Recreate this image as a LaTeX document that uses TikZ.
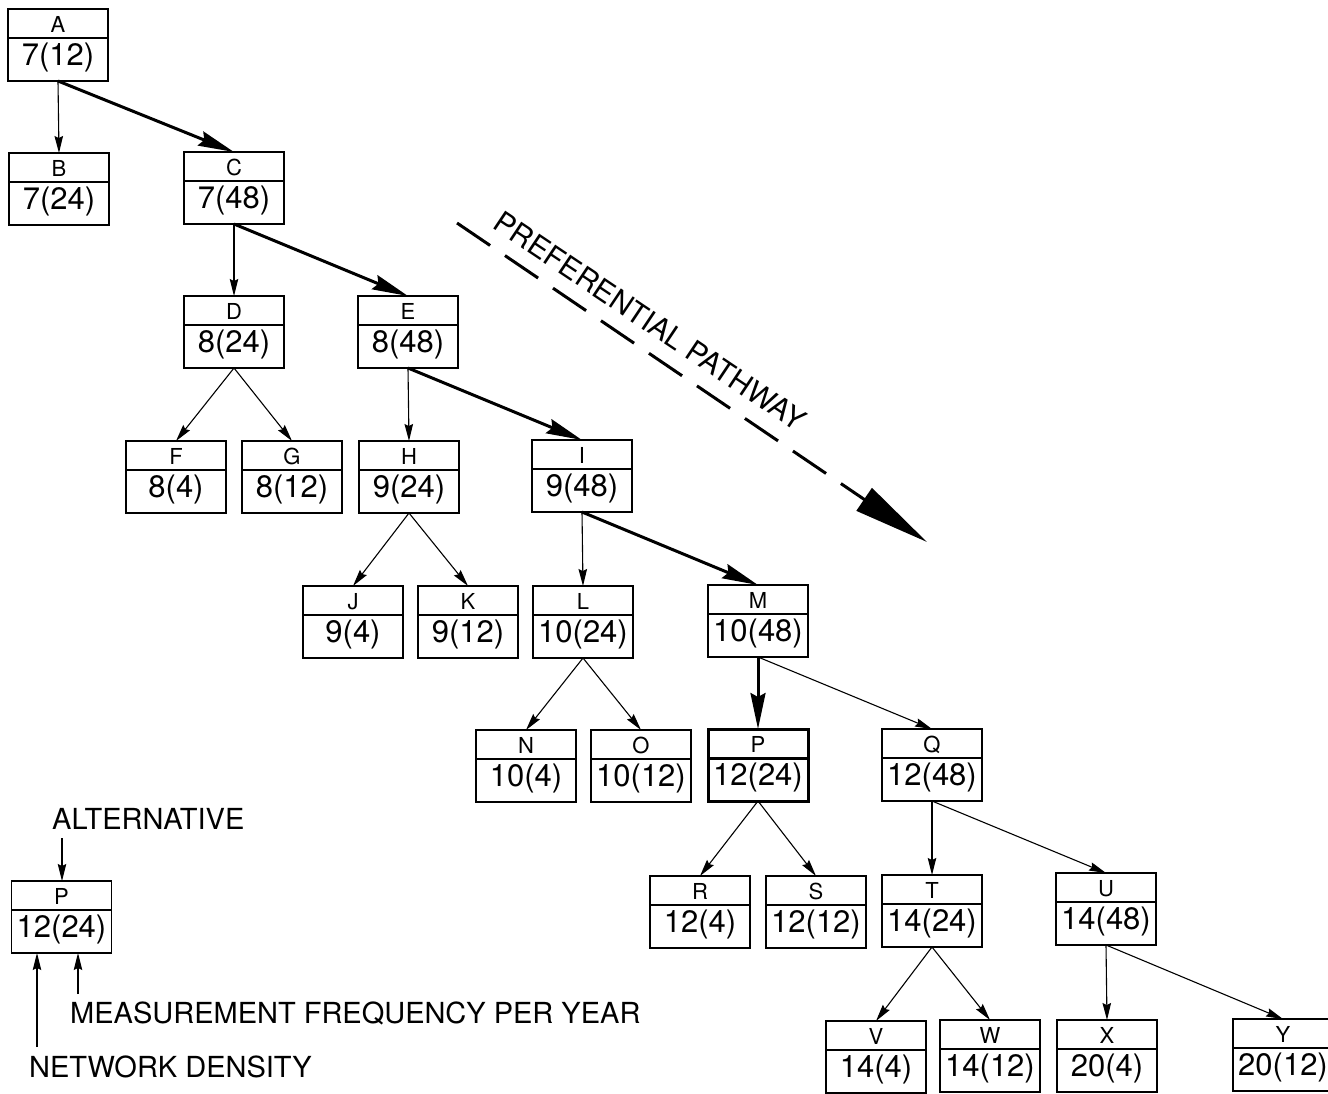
\documentclass[tikz,border=0pt]{standalone}
\usepackage{fontspec}
\setmainfont{TeX Gyre Heros}
\usetikzlibrary{arrows.meta}
\newcommand\bx[6][]{%
  \node[boxst,#1] (#2) at (#3,#4+36) {};
  \draw[line width=1.2pt,#1] ([yshift=-29pt]#2.north west) -- ([yshift=-29pt]#2.north east);
  \node[lett] at ([yshift=-23pt]#2.north) {#5};
  \node[val] at ([yshift=-56pt]#2.north) {#6};
}
\begin{document}
\begin{tikzpicture}[x=1pt,y=-1pt,
  boxst/.style={draw, line width=1.2pt, minimum width=100pt, minimum height=72pt, inner sep=0pt, outer sep=0pt},
  lett/.style={font=\fontsize{22}{24}\selectfont, anchor=base, inner sep=0pt},
  val/.style={font=\fontsize{31}{33}\selectfont, anchor=base, inner sep=0pt},
  thinarr/.style={line width=1.1pt, -{Stealth[length=17pt,width=8.5pt,inset=2pt]}},
  thickarr/.style={line width=3pt, -{Stealth[length=36pt,width=15pt,inset=4pt]}},
  legtxt/.style={font=\fontsize{29}{30}\selectfont, anchor=base west, inner sep=0pt},
  pathtxt/.style={font=\fontsize{29.5}{31}\selectfont, inner sep=0pt}
]
\useasboundingbox (0,0) rectangle (1328,1093);
\clip (0,0) rectangle (1328,1093);
\fill[white] (0,0) rectangle (1328,1093);

% boxes
\bx{A}{58}{9}{A}{7(12)}
\bx{B}{59}{153}{B}{7(24)}
\bx{C}{234}{152}{C}{7(48)}
\bx{D}{234}{296}{D}{8(24)}
\bx{E}{408}{296}{E}{8(48)}
\bx{F}{176}{441}{F}{8(4)}
\bx{G}{292}{441}{G}{8(12)}
\bx{H}{409}{441}{H}{9(24)}
\bx{I}{582}{440}{I}{9(48)}
\bx{J}{353}{586}{J}{9(4)}
\bx{K}{468}{586}{K}{9(12)}
\bx{L}{583}{586}{L}{10(24)}
\bx{M}{758}{585}{M}{10(48)}
\bx{N}{526}{730}{N}{10(4)}
\bx{O}{641}{730}{O}{10(12)}
\bx[line width=3pt]{P}{758}{729}{P}{12(24)}
\bx{Q}{932}{729}{Q}{12(48)}
\bx{R}{700}{876}{R}{12(4)}
\bx{S}{816}{876}{S}{12(12)}
\bx{T}{932}{875}{T}{14(24)}
\bx{U}{1106}{873}{U}{14(48)}
\bx{V}{876}{1021}{V}{14(4)}
\bx{W}{990}{1020}{W}{14(12)}
\bx{X}{1107}{1020}{X}{20(4)}
\bx{Y}{1283}{1019}{Y}{20(12)}

% thin connectors
\foreach \p/\c in {A/B,C/D,E/H,I/L,M/Q,D/F,D/G,H/J,H/K,L/N,L/O,P/R,P/S,Q/T,Q/U,T/V,T/W,U/X,U/Y}
  \draw[thinarr] (\p.south) -- (\c.north);
% preferential connectors
\foreach \p/\c in {A/C,C/E,E/I,I/M,M/P}
  \draw[thickarr] (\p.south) -- (\c.north);

% preferential pathway
\coordinate (pp1) at (457,223);
\coordinate (pp2) at (927,542);
\draw[line width=3pt, dash pattern=on 40pt off 18pt, -{Triangle[length=76pt,width=27pt]}] (pp1) -- (pp2);
\node[pathtxt, rotate=-33.8] (pt) at (650,321) {PREFERENTIAL PATHWAY};

% legend
\bx{LP}{61.5}{881}{P}{12(24)}
\node[legtxt] (alt) at (52,829) {ALTERNATIVE};
\node[legtxt] (mf) at (70,1023) {MEASUREMENT FREQUENCY PER YEAR};
\node[legtxt] (nd) at (29,1077) {NETWORK DENSITY};
\coordinate (la) at (62,838);
\coordinate (lm) at (78,994);
\coordinate (ln) at (37,1047);
\draw[thinarr] (la) -- (la |- LP.north);
\draw[thinarr] (lm) -- (lm |- LP.south);
\draw[thinarr] (ln) -- (ln |- LP.south);
\end{tikzpicture}
\end{document}
